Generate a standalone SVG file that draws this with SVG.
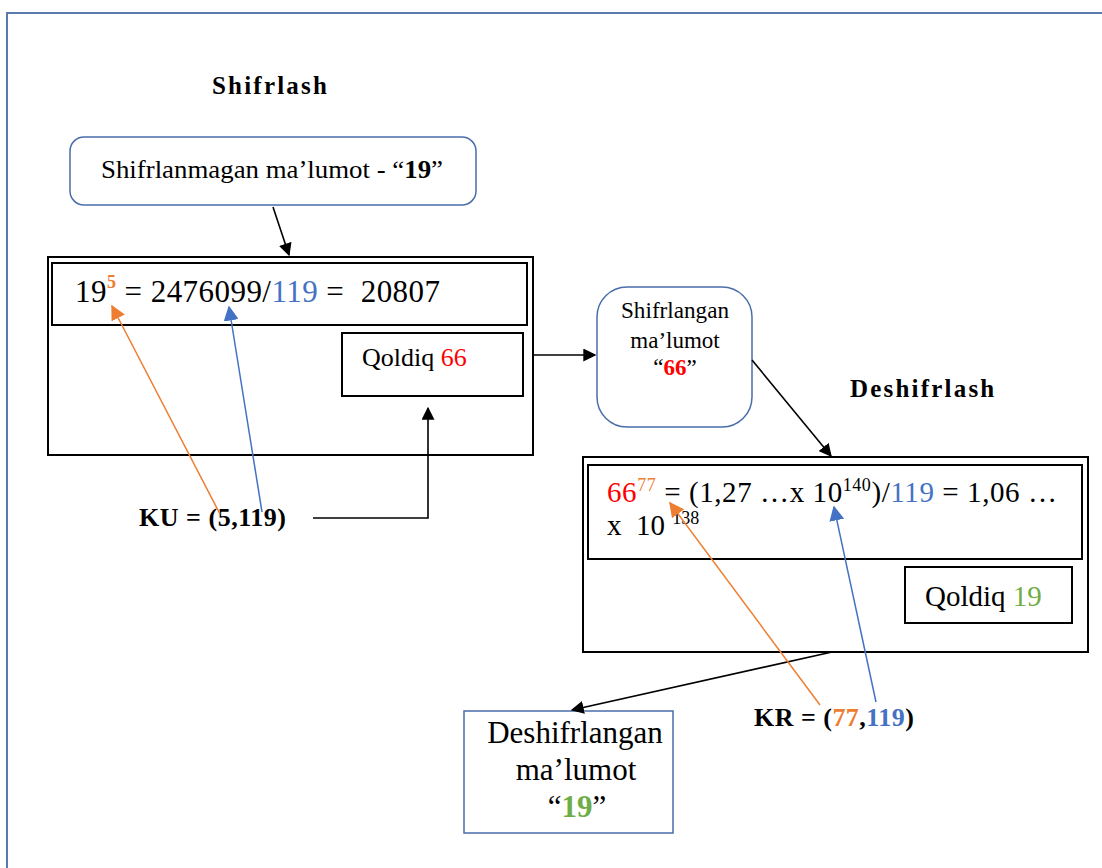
<svg xmlns="http://www.w3.org/2000/svg" width="1102" height="868" viewBox="0 0 1102 868">
  <style>
    text, tspan { font-family: "Liberation Serif", "Times New Roman", serif; }
    text { fill: #000; }
    .title { font-size: 25px; font-weight: bold; letter-spacing: 2.2px; }
    .blk { fill: none; stroke: #000; stroke-width: 2; }
    .rnd { fill: #fff; stroke: #4a6ea8; stroke-width: 1.5; }
    .conn { fill: none; stroke: #000; stroke-width: 1.6; }
    .orange { fill: #ed7d31; }
    .blue { fill: #4472c4; }
    .red { fill: #ff0000; }
    .green { fill: #70ad47; }
  </style>
  <defs>
    <marker id="ah" viewBox="0 0 10 10" refX="9" refY="5" markerWidth="13" markerHeight="13" markerUnits="userSpaceOnUse" orient="auto">
      <path d="M0,0 L10,5 L0,10 z" fill="#000"/>
    </marker>
    <marker id="ahO" viewBox="0 0 10 10" refX="9" refY="5" markerWidth="15" markerHeight="15" markerUnits="userSpaceOnUse" orient="auto">
      <path d="M0,0 L10,5 L0,10 z" fill="#ed7d31"/>
    </marker>
    <marker id="ahB" viewBox="0 0 10 10" refX="9" refY="5" markerWidth="15" markerHeight="15" markerUnits="userSpaceOnUse" orient="auto">
      <path d="M0,0 L10,5 L0,10 z" fill="#4472c4"/>
    </marker>
  </defs>

  <rect width="1102" height="868" fill="#fff"/>
  <!-- page frame -->
  <path d="M7,868 L7,13 L1102,13" fill="none" stroke="#5b7bb0" stroke-width="2"/>

  <text class="title" x="212" y="94">Shifrlash</text>
  <text class="title" x="850" y="397">Deshifrlash</text>

  <g id="plain-data">
    <rect class="rnd" x="70" y="137" width="406" height="68" rx="14"/>
    <text x="101" y="178" font-size="25" textLength="342" lengthAdjust="spacingAndGlyphs">Shifrlanmagan ma’lumot - “<tspan font-weight="bold">19</tspan>”</text>
  </g>

  <g id="encrypt-box">
    <rect class="blk" x="48" y="257" width="485" height="198"/>
    <rect class="blk" x="52" y="263" width="475" height="62"/>
    <text x="75" y="302" font-size="31" xml:space="preserve" textLength="365" lengthAdjust="spacing">19<tspan class="orange" font-weight="bold" font-size="18" dy="-14">5</tspan><tspan dy="14"> = 2476099/</tspan><tspan class="blue">119</tspan> =  20807</text>
  </g>

  <g id="remainder-66">
    <rect class="blk" x="342" y="333" width="181" height="63"/>
    <text x="362" y="366" font-size="26">Qoldiq <tspan class="red">66</tspan></text>
  </g>

  <g id="cipher-data">
    <rect class="rnd" x="597" y="287" width="155" height="140" rx="30"/>
    <text x="675" y="318" font-size="23" text-anchor="middle" textLength="108" lengthAdjust="spacingAndGlyphs">Shifrlangan</text>
    <text x="675" y="348" font-size="23" text-anchor="middle">ma’lumot</text>
    <text x="675" y="375" font-size="23" text-anchor="middle">“<tspan class="red" font-weight="bold">66</tspan>”</text>
  </g>

  <g id="decrypt-box">
    <rect class="blk" x="583" y="457" width="505" height="195"/>
    <rect class="blk" x="588" y="465" width="494" height="94"/>
    <text x="607" y="502" font-size="29" textLength="450" lengthAdjust="spacing"><tspan class="red">66</tspan><tspan class="orange" font-size="18" dy="-11">77</tspan><tspan dy="11"> = (1,27 …x 10</tspan><tspan font-size="18" dy="-11">140</tspan><tspan dy="11">)/</tspan><tspan class="blue">119</tspan> = 1,06 …</text>
    <text x="607" y="535" font-size="29" xml:space="preserve">x  10 <tspan font-size="18" dy="-11">138</tspan></text>
  </g>

  <g id="remainder-19">
    <rect class="blk" x="905" y="567" width="167" height="56"/>
    <text x="925" y="606" font-size="29">Qoldiq <tspan class="green">19</tspan></text>
  </g>

  <g id="decrypted-data">
    <rect x="464" y="711" width="209" height="122" fill="#fff" stroke="#4a6ea8" stroke-width="1.5"/>
    <text x="575" y="743" font-size="31" text-anchor="middle">Deshifrlangan</text>
    <text x="576" y="780" font-size="31" text-anchor="middle">ma’lumot</text>
    <text x="577" y="817" font-size="31" text-anchor="middle">“<tspan class="green" font-weight="bold">19</tspan>”</text>
  </g>

  <g id="public-key">
    <text x="139" y="526" font-size="26" font-weight="bold" textLength="147" lengthAdjust="spacing">KU = (5,119)</text>
  </g>

  <g id="private-key">
    <text x="754" y="726" font-size="26" font-weight="bold" textLength="160" lengthAdjust="spacing">KR = (<tspan class="orange">77</tspan>,<tspan class="blue">119</tspan>)</text>
  </g>

  <g id="connectors">
    <line class="conn" x1="273" y1="207" x2="289" y2="255" marker-end="url(#ah)"/>
    <path class="conn" d="M313,518 L428,518 L428,408" marker-end="url(#ah)"/>
    <line class="conn" x1="533" y1="355" x2="595" y2="355" marker-end="url(#ah)"/>
    <line class="conn" x1="752" y1="360" x2="831" y2="456" marker-end="url(#ah)"/>
    <line class="conn" x1="832" y1="652" x2="572" y2="710" marker-end="url(#ah)"/>
    <line x1="220" y1="514" x2="112" y2="306" stroke="#ed7d31" stroke-width="1.5" marker-end="url(#ahO)"/>
    <line x1="262" y1="512" x2="229" y2="307" stroke="#4472c4" stroke-width="1.5" marker-end="url(#ahB)"/>
    <line x1="820" y1="705" x2="670" y2="503" stroke="#ed7d31" stroke-width="1.5" marker-end="url(#ahO)"/>
    <line x1="876" y1="702" x2="834" y2="507" stroke="#4472c4" stroke-width="1.5" marker-end="url(#ahB)"/>
  </g>
</svg>
